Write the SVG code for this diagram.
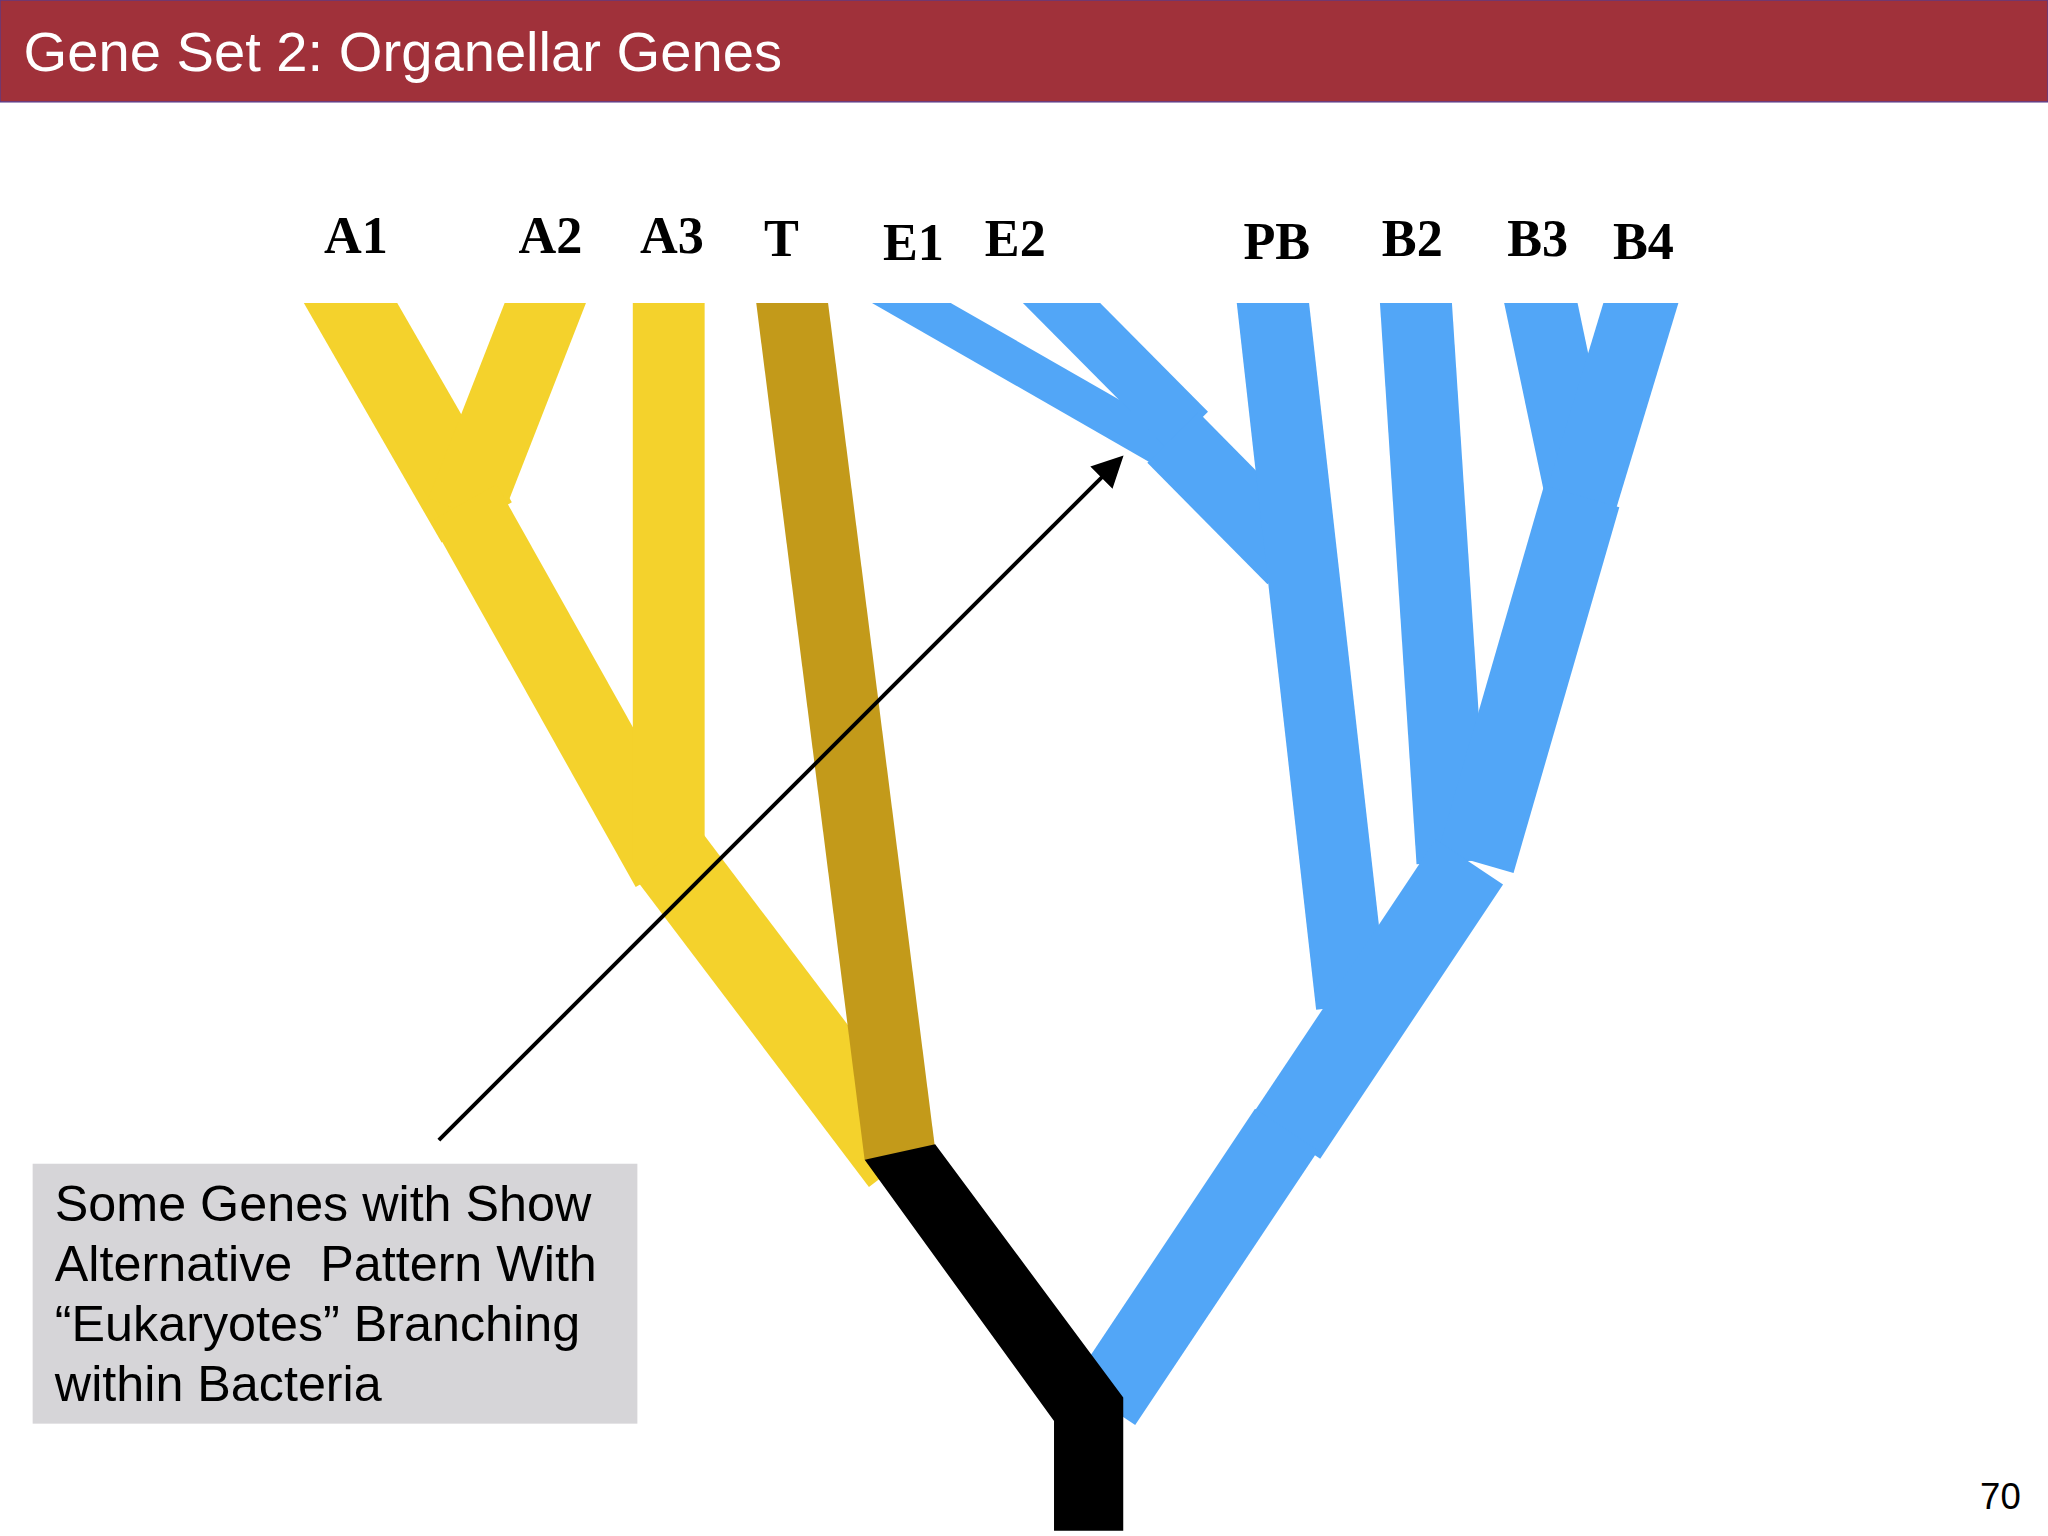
<svg xmlns="http://www.w3.org/2000/svg" width="2048" height="1536" viewBox="0 0 2048 1536">
<style>
.lab{font-family:"Liberation Serif",serif;font-weight:bold;font-size:40px;fill:#000}
.y{stroke:#f4d22c;fill:none;stroke-linecap:butt}
.b{stroke:#52a6f7;fill:none;stroke-linecap:butt}
.box{font-family:"Liberation Sans",Arial,sans-serif;font-size:38.5px;fill:#000}
</style>
<defs>
<marker id="ah" markerWidth="8" markerHeight="8" refX="6" refY="4" orient="auto" markerUnits="strokeWidth"><path d="M0,0 L8,4 L0,8 z" fill="#000"/></marker>
<clipPath id="top"><rect x="0" y="232" width="1568" height="1000"/></clipPath>
</defs>
<rect width="2048" height="1536" fill="#fff"/>
<g transform="scale(1.3061)">
<g id="header"><rect x="0" y="0" width="1568" height="78" fill="#a0313a" stroke="#5a3a8a" stroke-width="1"/>
<text x="18" y="54" font-family="Liberation Sans,Arial,sans-serif" font-size="43" fill="#fff">Gene Set 2: Organellar Genes</text></g>
<g id="branches" clip-path="url(#top)">
<line class="y" x1="250" y1="200" x2="365" y2="400" stroke-width="62"/>
<line class="y" x1="430" y1="200" x2="355" y2="392" stroke-width="58"/>
<line class="y" x1="355" y1="385" x2="512" y2="665" stroke-width="58"/>
<line class="y" x1="512" y1="200" x2="512" y2="660" stroke-width="55"/>
<line class="y" x1="512" y1="655" x2="690" y2="890" stroke-width="62"/>
<polygon points="579,232 634,232 716,880 662,888" fill="#c39a1a"/>
<line class="b" x1="642" y1="200" x2="900" y2="348" stroke-width="30"/>
<line class="b" x1="781" y1="200" x2="910" y2="330" stroke-width="42"/>
<line class="b" x1="898" y1="335" x2="990" y2="428" stroke-width="55"/>
<line class="b" x1="971" y1="200" x2="1035" y2="770" stroke-width="55"/>
<line class="b" x1="1082" y1="200" x2="1112" y2="660" stroke-width="55"/>
<line class="b" x1="1173" y1="200" x2="1212" y2="385" stroke-width="55"/>
<line class="b" x1="1266" y1="200" x2="1210" y2="385" stroke-width="55"/>
<line class="b" x1="1211" y1="380" x2="1130" y2="660" stroke-width="60"/>
<line class="b" x1="1125" y1="660" x2="985" y2="870" stroke-width="62"/>
<line class="b" x1="985" y1="865" x2="845" y2="1075" stroke-width="58"/>
<polygon points="662,888 716,876 860,1070 860,1172 807,1172 807,1088" fill="#000"/>
</g>
<g id="labels">
<text class="lab" x="248" y="194">A1</text>
<text class="lab" x="397" y="194">A2</text>
<text class="lab" x="490" y="194">A3</text>
<text class="lab" x="585" y="196">T</text>
<text class="lab" x="676" y="199">E1</text>
<text class="lab" x="754" y="196">E2</text>
<text class="lab" x="952" y="198">PB</text>
<text class="lab" x="1058" y="196">B2</text>
<text class="lab" x="1154" y="196">B3</text>
<text class="lab" x="1235" y="198">B4</text>
</g>
<g id="connectors"><line x1="336" y1="873" x2="856" y2="353" stroke="#000" stroke-width="3" marker-end="url(#ah)"/></g>
<g id="note"><rect x="25" y="891" width="463" height="199" fill="#d6d5d8"/>
<text class="box" x="42" y="935">Some Genes with Show</text>
<text class="box" x="42" y="981" xml:space="preserve">Alternative  Pattern With</text>
<text class="box" x="42" y="1027">“Eukaryotes” Branching</text>
<text class="box" x="42" y="1073">within Bacteria</text></g>
<text x="1516" y="1155" font-family="Liberation Sans,Arial,sans-serif" font-size="28" fill="#000">70</text>
</g>
</svg>
